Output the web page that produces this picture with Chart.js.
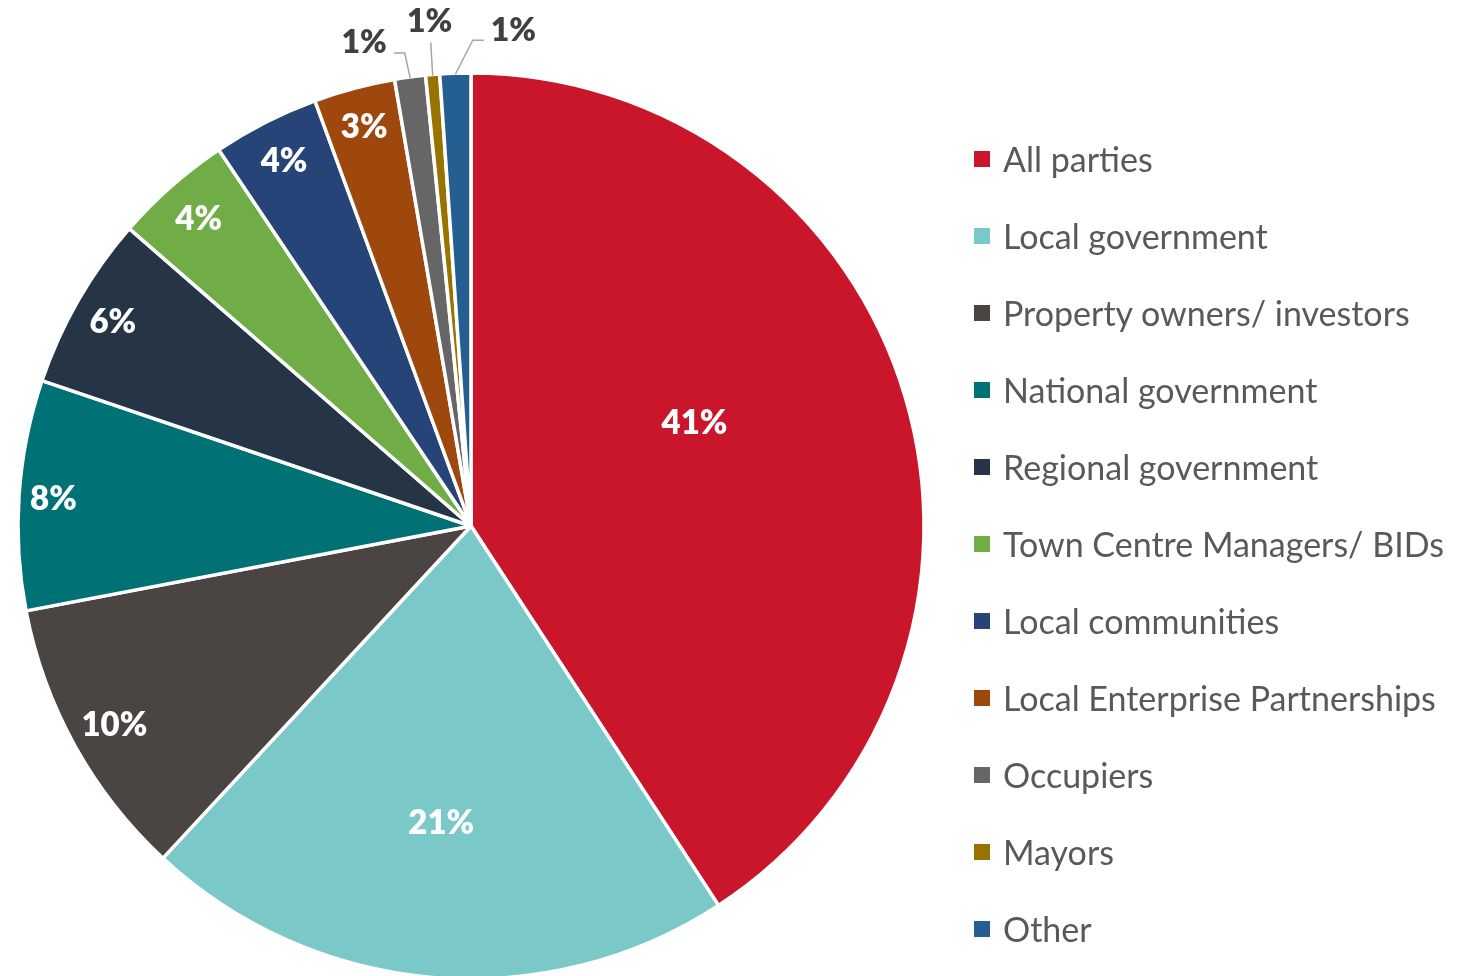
<!DOCTYPE html>
<html>
<head>
<meta charset="utf-8">
<title>Who should lead</title>
<script src="https://cdn.jsdelivr.net/npm/chart.js@4.4.1/dist/chart.umd.min.js"></script>
<style>
  html, body { margin: 0; padding: 0; background: #fff; overflow: hidden; }
  #wrap { position: relative; width: 1466px; height: 976px; }
  #chart { position: absolute; left: 0; top: 0; }
  #legend {
    position: absolute; left: 974px; top: 120px;
    margin: 0; padding: 0; list-style: none;
    font-family: Lato, sans-serif; font-size: 34px; color: #595959;
  }
  #legend li { height: 77px; display: flex; align-items: center; white-space: nowrap; }
  #legend .swatch { width: 16px; height: 16px; margin-right: 13px; flex: none; }
</style>
</head>
<body>
<div id="wrap">
  <canvas id="chart" width="1466" height="976"></canvas>
  <ul id="legend"></ul>
</div>
<script>
/* ---- data ---- */
const parties = [
  'All parties', 'Local government', 'Property owners/ investors', 'National government',
  'Regional government', 'Town Centre Managers/ BIDs', 'Local communities',
  'Local Enterprise Partnerships', 'Occupiers', 'Mayors', 'Other'
];
const shares = [40.8, 21.1, 10.1, 8.2, 6.2, 4.2, 3.8, 2.9, 1.1, 0.5, 1.1];
const colors = [
  '#C9162A', '#7AC8C8', '#4A4542', '#007174', '#253545', '#70AD47',
  '#264478', '#9E480E', '#666666', '#997300', '#255E91'
];

// where each percentage goes: r = share of the radius along the slice (turn = degrees off the middle),
// small slices get their label outside with a leader line
const labelSpots = [
  { r: 0.545, turn: -8.6 }, { r: 0.656, turn: 0.9 }, { r: 0.90 }, { r: 0.924 },
  { r: 0.912 }, { r: 0.909 }, { r: 0.909 }, { r: 0.915 },
  { out: 'left', dx: -46, dy: -36 },
  { out: 'up', dx: -3, dy: -55 },
  { out: 'right', dx: 58, dy: -45 }
];

const total = shares.reduce((s, v) => s + v, 0);
const pct = v => Math.round(v * 100 / total) + '%';

/* ---- percentage labels ---- */
const pctLabels = {
  id: 'pctLabels',
  afterDatasetsDraw(chart) {
    const { ctx } = chart;
    const arcs = chart.getDatasetMeta(0).data;
    ctx.save();
    ctx.textAlign = 'center';
    ctx.textBaseline = 'middle';
    arcs.forEach((arc, i) => {
      const { x, y, startAngle, endAngle, outerRadius } =
        arc.getProps(['x', 'y', 'startAngle', 'endAngle', 'outerRadius'], true);
      const spot = labelSpots[i];
      const mid = (startAngle + endAngle) / 2;
      const text = pct(shares[i]);

      if (!spot.out) {
        const a = mid + (spot.turn || 0) * Math.PI / 180;
        ctx.font = '800 33px Lato, sans-serif';
        ctx.fillStyle = '#fff';
        ctx.fillText(text, x + Math.cos(a) * outerRadius * spot.r, y + Math.sin(a) * outerRadius * spot.r + 2);
        return;
      }

      // outside label + leader
      const ax = x + Math.cos(mid) * (outerRadius - 1);
      const ay = y + Math.sin(mid) * (outerRadius - 1);
      const lx = ax + spot.dx, ly = ay + spot.dy;
      ctx.font = '800 32px Lato, sans-serif';
      const half = ctx.measureText(text).width / 2;

      ctx.strokeStyle = '#A6A6A6';
      ctx.lineWidth = 1.5;
      ctx.beginPath();
      ctx.moveTo(ax, ay);
      if (spot.out === 'up') {
        ctx.lineTo(lx + 1, ly + 22);
      } else {
        const side = spot.out === 'left' ? 1 : -1;
        const endX = lx + side * (half + 7);
        ctx.lineTo(endX + side * 11, ly + 11);
        ctx.lineTo(endX, ly + 11);
      }
      ctx.stroke();

      ctx.fillStyle = '#404040';
      ctx.fillText(text, lx, ly + 1);
    });
    ctx.restore();
  }
};

/* ---- legend ---- */
document.getElementById('legend').innerHTML = parties.map((p, i) => `
  <li><span class="swatch" style="background:${colors[i]}"></span>${p}</li>`).join('');

/* ---- chart ---- */
new Chart(document.getElementById('chart'), {
  type: 'pie',
  data: {
    labels: parties,
    datasets: [{
      data: shares,
      backgroundColor: colors,
      borderColor: '#fff',
      borderWidth: 3.5,
      hoverOffset: 0
    }]
  },
  options: {
    responsive: false,
    animation: false,
    radius: 453,
    layout: { padding: { top: 76, bottom: 0, left: 20, right: 544 } },
    plugins: {
      legend: { display: false },
      tooltip: { enabled: false }
    }
  },
  plugins: [pctLabels]
});
</script>
</body>
</html>
